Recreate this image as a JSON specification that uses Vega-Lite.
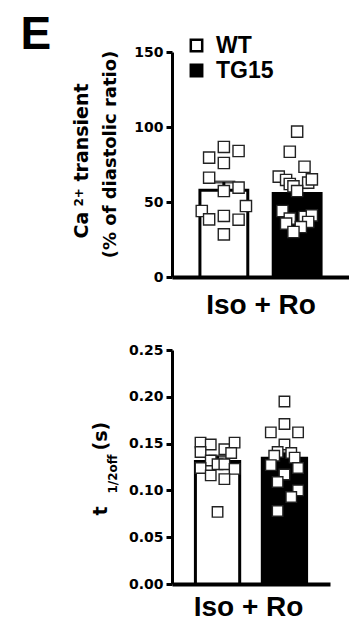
{
  "$schema": "https://vega.github.io/schema/vega-lite/v6.json",
  "background": "white",
  "padding": {"left": 20, "top": 11, "right": 0, "bottom": 0},
  "datasets": {
    "top_bars": [
      {"group": "WT", "mean": 57.8, "hi": 63.3},
      {"group": "TG15", "mean": 55.6, "hi": 59.6}
    ],
    "top_points": [
      {"group": "WT", "value": 79.6, "j": -4},
      {"group": "WT", "value": 86.7, "j": 0},
      {"group": "WT", "value": 84.0, "j": 4},
      {"group": "WT", "value": 76.0, "j": 0},
      {"group": "WT", "value": 66.2, "j": -4},
      {"group": "WT", "value": 57.3, "j": 0},
      {"group": "WT", "value": 59.6, "j": 4},
      {"group": "WT", "value": 47.3, "j": 6},
      {"group": "WT", "value": 44.0, "j": -6},
      {"group": "WT", "value": 38.4, "j": -4},
      {"group": "WT", "value": 40.7, "j": 0},
      {"group": "WT", "value": 38.2, "j": 4},
      {"group": "WT", "value": 28.4, "j": 0},
      {"group": "TG15", "value": 96.9, "j": 0},
      {"group": "TG15", "value": 83.5, "j": -2},
      {"group": "TG15", "value": 73.5, "j": 2},
      {"group": "TG15", "value": 66.9, "j": -5},
      {"group": "TG15", "value": 64.7, "j": -3},
      {"group": "TG15", "value": 62.0, "j": -2},
      {"group": "TG15", "value": 62.9, "j": 3},
      {"group": "TG15", "value": 65.1, "j": 4},
      {"group": "TG15", "value": 60.4, "j": -1},
      {"group": "TG15", "value": 57.3, "j": 0},
      {"group": "TG15", "value": 44.0, "j": -4},
      {"group": "TG15", "value": 38.9, "j": -2},
      {"group": "TG15", "value": 35.6, "j": -3},
      {"group": "TG15", "value": 40.0, "j": 2},
      {"group": "TG15", "value": 41.1, "j": 4},
      {"group": "TG15", "value": 36.7, "j": 3},
      {"group": "TG15", "value": 33.3, "j": 1},
      {"group": "TG15", "value": 30.0, "j": -1}
    ],
    "bot_bars": [
      {"group": "WT", "mean": 0.131, "hi": 0.1366},
      {"group": "TG15", "mean": 0.1343, "hi": 0.1399}
    ],
    "bot_points": [
      {"group": "WT", "value": 0.151, "j": -5},
      {"group": "WT", "value": 0.149, "j": -2},
      {"group": "WT", "value": 0.144, "j": 2},
      {"group": "WT", "value": 0.151, "j": 5},
      {"group": "WT", "value": 0.141, "j": -5},
      {"group": "WT", "value": 0.140, "j": 4},
      {"group": "WT", "value": 0.132, "j": -2},
      {"group": "WT", "value": 0.124, "j": -5},
      {"group": "WT", "value": 0.128, "j": 0},
      {"group": "WT", "value": 0.128, "j": 2},
      {"group": "WT", "value": 0.123, "j": 5},
      {"group": "WT", "value": 0.116, "j": -2},
      {"group": "WT", "value": 0.112, "j": 2},
      {"group": "WT", "value": 0.077, "j": 0},
      {"group": "TG15", "value": 0.195, "j": 0},
      {"group": "TG15", "value": 0.171, "j": 0},
      {"group": "TG15", "value": 0.162, "j": -4},
      {"group": "TG15", "value": 0.162, "j": 4},
      {"group": "TG15", "value": 0.149, "j": 0},
      {"group": "TG15", "value": 0.141, "j": -2},
      {"group": "TG15", "value": 0.137, "j": -3},
      {"group": "TG15", "value": 0.140, "j": 2},
      {"group": "TG15", "value": 0.135, "j": 3},
      {"group": "TG15", "value": 0.127, "j": -4},
      {"group": "TG15", "value": 0.124, "j": 4},
      {"group": "TG15", "value": 0.117, "j": 0},
      {"group": "TG15", "value": 0.109, "j": -2},
      {"group": "TG15", "value": 0.100, "j": 4},
      {"group": "TG15", "value": 0.093, "j": 2},
      {"group": "TG15", "value": 0.078, "j": -2}
    ]
  },
  "vconcat": [
    {
      "width": 177,
      "height": 225,
      "layer": [
        {
          "data": {"name": "top_bars"},
          "mark": {"type": "bar", "stroke": "black", "strokeWidth": 3, "width": {"band": 1}},
          "encoding": {
            "x": {"field": "group", "type": "nominal", "sort": null,
              "scale": {"domain": ["WT", "TG15"], "paddingInner": 0.347, "paddingOuter": 0.381},
              "axis": {"labels": false, "ticks": false, "title": "Iso + Ro", "titleFont": "Liberation Sans", "titleFontSize": 28, "titleBaseline": "alphabetic", "titleY": 36, "domainWidth": 4}},
            "y": {"field": "mean", "type": "quantitative", "scale": {"domain": [0, 150]},
              "axis": {"orient": "left", "values": [0, 50, 100, 150], "title": "Ca", "titleFontSize": 19, "titleX": -85, "titleY": 186, "titleAlign": "left", "titleBaseline": "alphabetic", "titleAngle": 270}},
            "fill": {"field": "group", "type": "nominal",
              "scale": {"domain": ["WT", "TG15"], "range": ["white", "black"]},
              "legend": {"title": null, "orient": "none", "legendX": 13, "legendY": -18, "symbolType": "square", "symbolSize": 130, "symbolStrokeColor": "black", "symbolStrokeWidth": 2.5, "labelFont": "Liberation Sans", "labelFontWeight": "bold", "labelFontSize": 23, "labelColor": "black", "labelOffset": 8, "rowPadding": 1, "padding": 0}}
          }
        },
        {
          "data": {"name": "top_bars"},
          "mark": {"type": "rule", "color": "black", "strokeWidth": 3},
          "encoding": {
            "x": {"field": "group", "type": "nominal", "sort": null},
            "y": {"field": "mean", "type": "quantitative", "scale": {"domain": [0, 150]},
              "axis": {"orient": "left", "labels": false, "ticks": false, "domain": false, "title": "(% of diastolic ratio)", "titleFontSize": 18, "titleX": -56.5, "titleY": 102, "titleAlign": "center", "titleBaseline": "alphabetic", "titleAngle": 270}},
            "y2": {"field": "hi"}
          }
        },
        {
          "data": {"name": "top_bars"},
          "mark": {"type": "tick", "color": "black", "thickness": 3, "size": 23},
          "encoding": {
            "x": {"field": "group", "type": "nominal", "sort": null},
            "y": {"field": "hi", "type": "quantitative", "scale": {"domain": [0, 150]},
              "axis": {"orient": "left", "labels": false, "ticks": false, "domain": false, "title": "2+", "titleFontSize": 12, "titleX": -90, "titleY": 154, "titleAlign": "left", "titleBaseline": "alphabetic", "titleAngle": 270}}
          }
        },
        {
          "data": {"name": "top_points"},
          "transform": [{"filter": "datum.group === 'WT'"}],
          "mark": {"type": "point", "shape": "square", "filled": true, "fill": "white", "stroke": "#222222", "strokeWidth": 1.4, "size": 125, "opacity": 1},
          "encoding": {
            "x": {"field": "group", "type": "nominal", "sort": null},
            "xOffset": {"field": "j", "type": "ordinal", "scale": {"domain": [-6, -5, -4, -3, -2, -1, 0, 1, 2, 3, 4, 5, 6]}},
            "y": {"field": "value", "type": "quantitative", "scale": {"domain": [0, 150]},
              "axis": {"orient": "left", "labels": false, "ticks": false, "domain": false, "title": "transient", "titleFontSize": 19, "titleX": -85, "titleY": 129, "titleAlign": "left", "titleBaseline": "alphabetic", "titleAngle": 270}}
          }
        },
        {
          "data": {"name": "top_points"},
          "transform": [{"filter": "datum.group === 'TG15'"}],
          "mark": {"type": "point", "shape": "square", "filled": true, "fill": "white", "stroke": "#222222", "strokeWidth": 1.4, "size": 125, "opacity": 1},
          "encoding": {
            "x": {"field": "group", "type": "nominal", "sort": null},
            "xOffset": {"field": "j", "type": "ordinal", "scale": {"domain": [-6, -5, -4, -3, -2, -1, 0, 1, 2, 3, 4, 5, 6]}},
            "y": {"field": "value", "type": "quantitative", "scale": {"domain": [0, 150]},
              "axis": {"orient": "left", "labels": false, "ticks": false, "domain": false, "title": "E", "titleFont": "Liberation Sans", "titleFontSize": 46, "titleX": -152, "titleY": -4, "titleAlign": "left", "titleBaseline": "alphabetic", "titleAngle": 0}}
          }
        }
      ],
      "resolve": {"scale": {"y": "independent", "xOffset": "independent"}, "axis": {"y": "independent"}}
    },
    {
      "width": 158,
      "height": 234,
      "layer": [
        {
          "data": {"name": "bot_bars"},
          "mark": {"type": "bar", "stroke": "black", "strokeWidth": 3, "width": {"band": 1}},
          "encoding": {
            "x": {"field": "group", "type": "nominal", "sort": null,
              "scale": {"domain": ["WT", "TG15"], "paddingInner": 0.338, "paddingOuter": 0.35},
              "axis": {"labels": false, "ticks": false, "title": "Iso + Ro", "titleFont": "Liberation Sans", "titleFontSize": 28, "titleBaseline": "alphabetic", "titleY": 31, "titleX": 76, "domainWidth": 4}},
            "y": {"field": "mean", "type": "quantitative", "scale": {"domain": [0, 0.25]},
              "axis": {"orient": "left", "values": [0, 0.05, 0.1, 0.15, 0.2, 0.25], "format": ".2f", "title": "t", "titleFontSize": 19, "titleX": -66, "titleY": 165, "titleAlign": "left", "titleBaseline": "alphabetic", "titleAngle": 270}},
            "fill": {"field": "group", "type": "nominal",
              "scale": {"domain": ["WT", "TG15"], "range": ["white", "black"]}, "legend": null}
          }
        },
        {
          "data": {"name": "bot_bars"},
          "mark": {"type": "rule", "color": "black", "strokeWidth": 3},
          "encoding": {
            "x": {"field": "group", "type": "nominal", "sort": null},
            "y": {"field": "mean", "type": "quantitative", "scale": {"domain": [0, 0.25]},
              "axis": {"orient": "left", "labels": false, "ticks": false, "domain": false, "title": "(s)", "titleFontSize": 19, "titleX": -66, "titleY": 100, "titleAlign": "left", "titleBaseline": "alphabetic", "titleAngle": 270}},
            "y2": {"field": "hi"}
          }
        },
        {
          "data": {"name": "bot_bars"},
          "mark": {"type": "tick", "color": "black", "thickness": 3, "size": 18},
          "encoding": {
            "x": {"field": "group", "type": "nominal", "sort": null},
            "y": {"field": "hi", "type": "quantitative", "scale": {"domain": [0, 0.25]}, "axis": null}
          }
        },
        {
          "data": {"name": "bot_points"},
          "mark": {"type": "point", "shape": "square", "filled": true, "fill": "white", "stroke": "#222222", "strokeWidth": 1.4, "size": 110, "opacity": 1},
          "encoding": {
            "x": {"field": "group", "type": "nominal", "sort": null},
            "xOffset": {"field": "j", "type": "ordinal", "scale": {"domain": [-6, -5, -4, -3, -2, -1, 0, 1, 2, 3, 4, 5, 6]}},
            "y": {"field": "value", "type": "quantitative", "scale": {"domain": [0, 0.25]},
              "axis": {"orient": "left", "labels": false, "ticks": false, "domain": false, "title": "1/2off", "titleFontSize": 12, "titleX": -56, "titleY": 143, "titleAlign": "left", "titleBaseline": "alphabetic", "titleAngle": 270}}
          }
        }
      ],
      "resolve": {"scale": {"y": "independent", "xOffset": "independent"}, "axis": {"y": "independent"}}
    }
  ],
  "config": {
    "view": {"stroke": null},
    "concat": {"spacing": 24},
    "axis": {"domainColor": "black", "domainWidth": 3, "tickColor": "black", "tickWidth": 3, "tickSize": 6, "labelFont": "DejaVu Sans", "labelFontWeight": "bold", "labelFontSize": 14, "labelColor": "black", "labelPadding": 3, "grid": false, "titleColor": "black", "titleFont": "DejaVu Sans", "titleFontWeight": "bold"}
  }
}
